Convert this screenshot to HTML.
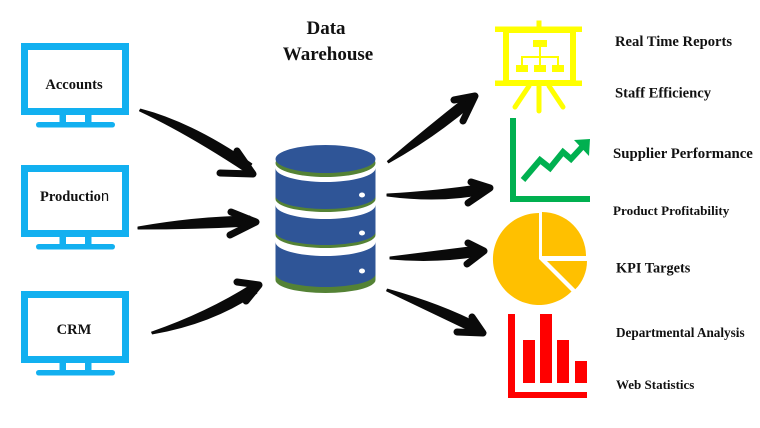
<!DOCTYPE html>
<html>
<head>
<meta charset="utf-8">
<style>
html,body{margin:0;padding:0;background:#fff;}
svg{display:block;}
text{font-family:"Liberation Serif",serif;font-weight:bold;fill:#111;}
</style>
</head>
<body>
<svg width="760" height="428" viewBox="0 0 760 428" xmlns="http://www.w3.org/2000/svg">
  <rect width="760" height="428" fill="#fff"/>

  <!-- Monitors -->
  <g fill="#12B0F0">
    <g>
      <rect x="24.5" y="46.5" width="101" height="65" fill="none" stroke="#12B0F0" stroke-width="7"/>
      <rect x="59.5" y="115" width="6.5" height="7.5"/>
      <rect x="85" y="115" width="6.5" height="7.5"/>
      <rect x="36" y="122" width="79" height="5.5" rx="2.7"/>
    </g>
    <g transform="translate(0,122)">
      <rect x="24.5" y="46.5" width="101" height="65" fill="none" stroke="#12B0F0" stroke-width="7"/>
      <rect x="59.5" y="115" width="6.5" height="7.5"/>
      <rect x="85" y="115" width="6.5" height="7.5"/>
      <rect x="36" y="122" width="79" height="5.5" rx="2.7"/>
    </g>
    <g transform="translate(0,248)">
      <rect x="24.5" y="46.5" width="101" height="65" fill="none" stroke="#12B0F0" stroke-width="7"/>
      <rect x="59.5" y="115" width="6.5" height="7.5"/>
      <rect x="85" y="115" width="6.5" height="7.5"/>
      <rect x="36" y="122" width="79" height="5.5" rx="2.7"/>
    </g>
  </g>
  <text x="74" y="89" font-size="14.5" text-anchor="middle">Accounts</text>
  <text x="74.5" y="201" font-size="14.5" text-anchor="middle">Productio<tspan style="font-family:'Liberation Sans',sans-serif;font-weight:normal">n</tspan></text>
  <text x="74" y="334" font-size="14.5" text-anchor="middle">CRM</text>

  <!-- Title -->
  <text x="326" y="34" font-size="19" text-anchor="middle">Data</text>
  <text x="328" y="60" font-size="19" text-anchor="middle">Warehouse</text>

  <!-- Database -->
  <g>
    <path d="M275.5,245 A50,14 0 0 0 375.5,245 L375.5,277 A50,13 0 0 1 275.5,277 Z" fill="#548235" transform="translate(0,3)"/>
    <path d="M275.5,242 A50,14 0 0 0 375.5,242 L375.5,274 A50,13 0 0 1 275.5,274 Z" fill="#2F5597"/>
    <path d="M275.5,205 A50,14 0 0 0 375.5,205 L375.5,232 A50,13 0 0 1 275.5,232 Z" fill="#548235" transform="translate(0,3)"/>
    <path d="M275.5,205 A50,14 0 0 0 375.5,205 L375.5,232 A50,13 0 0 1 275.5,232 Z" fill="#2F5597"/>
    <path d="M275.5,168 A50,14 0 0 0 375.5,168 L375.5,196 A50,13 0 0 1 275.5,196 Z" fill="#548235" transform="translate(0,3)"/>
    <path d="M275.5,168 A50,14 0 0 0 375.5,168 L375.5,196 A50,13 0 0 1 275.5,196 Z" fill="#2F5597"/>
    <ellipse cx="325.5" cy="163" rx="50" ry="14" fill="#548235"/>
    <ellipse cx="325.5" cy="159" rx="50" ry="14" fill="#2F5597"/>
    <ellipse cx="362" cy="195" rx="3" ry="2.5" fill="#fff"/>
    <ellipse cx="362" cy="233" rx="3" ry="2.5" fill="#fff"/>
    <ellipse cx="362" cy="271" rx="3" ry="2.5" fill="#fff"/>
  </g>

  <!-- Arrows: shafts -->
  <g fill="#0a0a0a" stroke="#0a0a0a" stroke-width="1" stroke-linejoin="round">
    <path d="M140.5,109.1 Q192.8,122.7 251.8,163.8 L246.2,172.2 Q187.2,133.3 139.5,110.9 Z"/>
    <path d="M138,227 Q194.6,217 249.8,216 L250.2,226 Q195.4,229 138,229 Z"/>
    <path d="M151.6,332.1 Q207.6,312.5 251.25,284.8 L256.75,293.2 Q212.4,323.5 152.4,333.9 Z"/>
    <path d="M387.4,161.2 Q426.4,128.2 465.9,97.2 L472.2,104.9 Q433.6,137.8 388.6,162.8 Z"/>
    <path d="M387,194 Q440,191 483.1,184.1 L484.9,193.9 Q440,203 387,196 Z"/>
    <path d="M390,257 Q437,251 477.3,246 L478.7,256 Q437,263 390,259 Z"/>
    <path d="M387.4,289.1 Q442.3,304.5 480.2,324.5 L475.8,333.5 Q437.7,315.5 386.6,290.9 Z"/>
  </g>
  <!-- Arrow heads -->
  <g stroke="#0a0a0a" stroke-width="7" stroke-linecap="round" stroke-linejoin="round" fill="none">
    <polyline points="237,151 253,174 220,173"/>
    <polyline points="231,212 256,222 230,235"/>
    <polyline points="237,282 259,285 246,301"/>
    <polyline points="454,100 475,96 463,121"/>
    <polyline points="471,182 490,188 468,203"/>
    <polyline points="468,243 484,251 467,264"/>
    <polyline points="472,317 483,333 457,332"/>
  </g>

  <!-- Easel (yellow) -->
  <g fill="#FFFF00">
    <rect x="536.5" y="20.5" width="5" height="8"/>
    <rect x="495" y="26.5" width="87" height="5.5"/>
    <rect x="506" y="30" width="67" height="53" fill="none" stroke="#FFFF00" stroke-width="6"/>
    <rect x="495" y="80.5" width="87" height="5.5"/>
    <g stroke="#FFFF00" stroke-width="5" stroke-linecap="round">
      <line x1="539" y1="86" x2="539" y2="111"/>
      <line x1="529" y1="86" x2="515" y2="107"/>
      <line x1="549" y1="86" x2="563" y2="107"/>
    </g>
    <rect x="533" y="40" width="14" height="7"/>
    <g stroke="#FFFF00" stroke-width="2">
      <line x1="540" y1="47" x2="540" y2="65"/>
      <line x1="521" y1="57" x2="559" y2="57"/>
      <line x1="522" y1="56" x2="522" y2="65"/>
      <line x1="558" y1="56" x2="558" y2="65"/>
    </g>
    <rect x="516" y="65" width="12" height="7"/>
    <rect x="534" y="65" width="12" height="7"/>
    <rect x="552" y="65" width="12" height="7"/>
  </g>

  <!-- Line chart (green) -->
  <g fill="#00B050">
    <rect x="510" y="118" width="6" height="84"/>
    <rect x="510" y="196" width="80" height="6"/>
    <polyline points="523,180 540,160 550,168 563,152 571,159 583,146" fill="none" stroke="#00B050" stroke-width="6" stroke-linejoin="miter"/>
    <polygon points="574,140 590,139 589,156"/>
  </g>

  <!-- Pie (orange) -->
  <g fill="#FFC000">
    <path d="M539,259 L539,213 A46,46 0 1 0 571.5,291.5 Z"/>
    <path d="M542,256 L542,212 A44,44 0 0 1 586,256 Z"/>
    <path d="M547,261 L587,261 A40,40 0 0 1 575.3,289.3 Z"/>
  </g>

  <!-- Bar chart (red) -->
  <g fill="#FF0000">
    <rect x="508" y="314" width="7" height="84"/>
    <rect x="508" y="392" width="79" height="6"/>
    <rect x="523" y="340" width="12" height="43"/>
    <rect x="540" y="314" width="12" height="69"/>
    <rect x="557" y="340" width="12" height="43"/>
    <rect x="575" y="361" width="12" height="22"/>
  </g>

  <!-- Right labels -->
  <text x="615" y="46" font-size="14.6">Real Time Reports</text>
  <text x="615" y="97.5" font-size="14.6">Staff Efficiency</text>
  <text x="613" y="158" font-size="14.8">Supplier Performance</text>
  <text x="613" y="215" font-size="13.1">Product Profitability</text>
  <text x="616" y="272.5" font-size="14.3">KPI Targets</text>
  <text x="616" y="337" font-size="13.2">Departmental Analysis</text>
  <text x="616" y="389" font-size="13">Web Statistics</text>
</svg>
</body>
</html>
